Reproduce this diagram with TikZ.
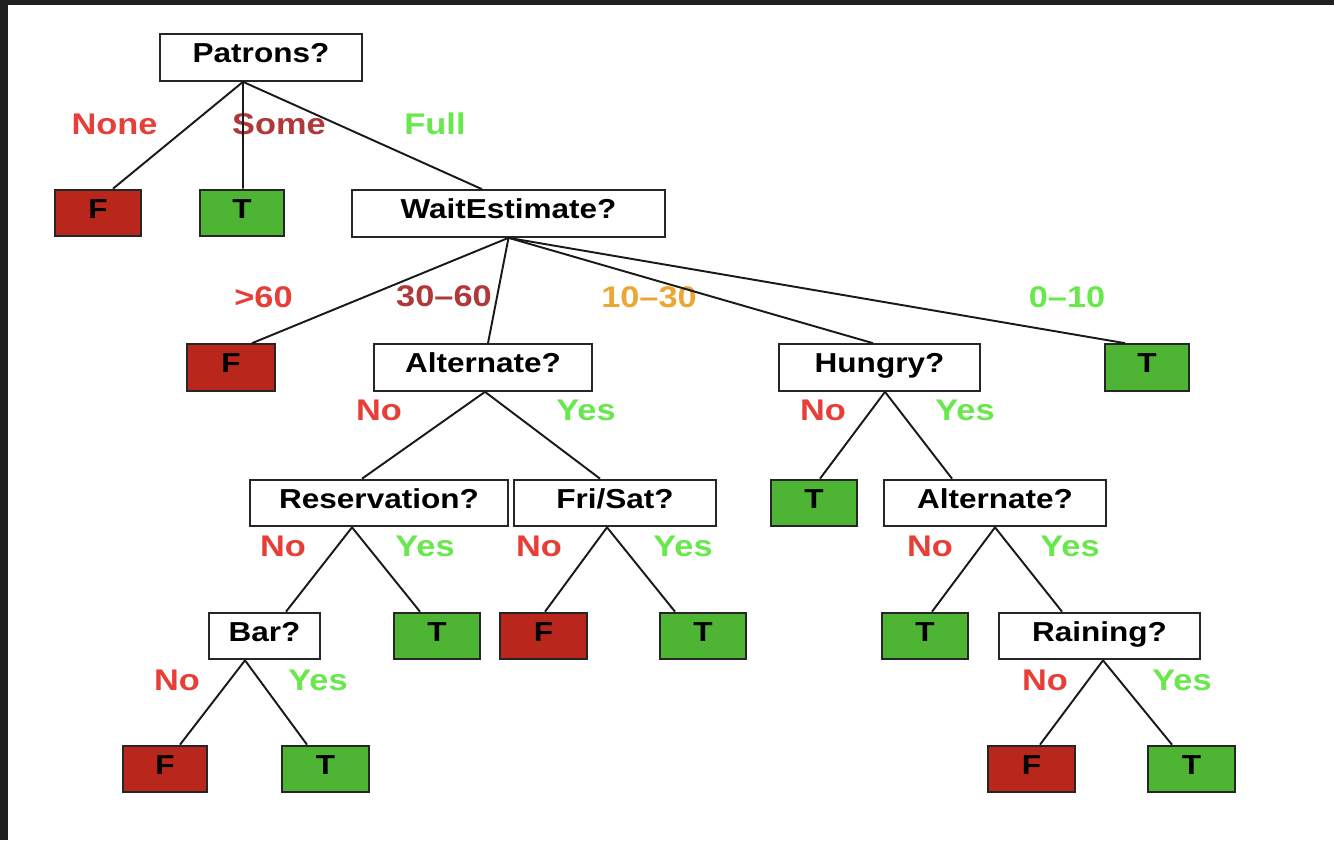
\documentclass[tikz,border=0pt]{standalone}
\usepackage{fontspec}
\setmainfont{Liberation Sans}[FakeStretch=1.15]
\usetikzlibrary{calc}

\definecolor{leafF}{RGB}{184,38,28}
\definecolor{leafT}{RGB}{78,180,52}
\definecolor{lblred}{RGB}{232,62,56}
\definecolor{lbldark}{RGB}{176,56,56}
\definecolor{lblgreen}{RGB}{104,232,76}
\definecolor{lblorange}{RGB}{236,166,52}
\definecolor{framegray}{RGB}{32,32,32}

\begin{document}
\begin{tikzpicture}[x=0.02cm,y=-0.02cm,
  box/.style={draw=black!85, line width=1.1pt, fill=white, inner xsep=0pt,
    inner ysep=5.1pt, text height=11.2pt, text depth=5.2pt,
    minimum width={#1*0.02cm}, font=\fontsize{15.6}{18}\selectfont\bfseries},
  fleaf/.style={box=#1, fill=leafF},
  tleaf/.style={box=#1, fill=leafT},
  lbl/.style={inner sep=0pt, text height=12.2pt, text depth=0pt,
    font=\fontsize{17}{20}\selectfont\bfseries, text=#1},
  edge/.style={draw=black!90, line width=1.1pt}]

\useasboundingbox (0,0) rectangle (1334,840);
\fill[white] (0,0) rectangle (1334,840);
\fill[framegray] (0,0) rectangle (1334,5);
\fill[framegray] (0,0) rectangle (8,840);

% decision nodes and leaves
\node[box=202]   (pat)  at (261,57.5)  {Patrons?};
\node[fleaf=86]  (fN)   at (98,213)    {F};
\node[tleaf=84]  (tS)   at (242,213)   {T};
\node[box=313]   (wait) at (508.5,213.5) {WaitEstimate?};
\node[fleaf=88]  (f60)  at (231,367.5) {F};
\node[box=218]   (alt1) at (483,367.5) {Alternate?};
\node[box=201]   (hun)  at (879.5,367.5) {Hungry?};
\node[tleaf=84]  (t010) at (1147,367.5) {T};
\node[box=258]   (res)  at (379,503)   {Reservation?};
\node[box=202]   (fri)  at (615,503)   {Fri/Sat?};
\node[tleaf=86]  (tHn)  at (814,503)   {T};
\node[box=222]   (alt2) at (995,503)   {Alternate?};
\node[box=111]   (bar)  at (264.5,636) {Bar?};
\node[tleaf=86]  (tRy)  at (437,636)   {T};
\node[fleaf=87]  (fFn)  at (543.5,636) {F};
\node[tleaf=86]  (tFy)  at (703,636)   {T};
\node[tleaf=86]  (tAn)  at (925,636)   {T};
\node[box=201]   (rain) at (1099.5,636) {Raining?};
\node[fleaf=84]  (fBn)  at (165,769)   {F};
\node[tleaf=87]  (tBy)  at (325.5,769) {T};
\node[fleaf=87]  (fRn)  at (1031.5,769) {F};
\node[tleaf=87]  (tRy2) at (1191.5,769) {T};

% branch labels
\node[lbl=lblred]    (lNone) at (114.5,124) {None};
\node[lbl=lbldark]   (lSome) at (279,124)   {Some};
\node[lbl=lblgreen]  (lFull) at (435,124)   {Full};
\node[lbl=lblred]    (lw1)   at (263.5,297) {>60};
\node[lbl=lbldark]   (lw2)   at (444,296)   {30–60};
\node[lbl=lblorange] (lw3)   at (649,297)   {10–30};
\node[lbl=lblgreen]  (lw4)   at (1067,297)  {0–10};
\node[lbl=lblred]    (la1n)  at (379,410)   {No};
\node[lbl=lblgreen]  (la1y)  at (586,410)   {Yes};
\node[lbl=lblred]    (lhn)   at (823,410)   {No};
\node[lbl=lblgreen]  (lhy)   at (965,410)   {Yes};
\node[lbl=lblred]    (lrn)   at (283,546)   {No};
\node[lbl=lblgreen]  (lry)   at (425,546)   {Yes};
\node[lbl=lblred]    (lfn)   at (539,546)   {No};
\node[lbl=lblgreen]  (lfy)   at (683,546)   {Yes};
\node[lbl=lblred]    (la2n)  at (930,546)   {No};
\node[lbl=lblgreen]  (la2y)  at (1070,546)  {Yes};
\node[lbl=lblred]    (lbn)   at (177,680)   {No};
\node[lbl=lblgreen]  (lby)   at (318,680)   {Yes};
\node[lbl=lblred]    (lrnn)  at (1045,680)  {No};
\node[lbl=lblgreen]  (lrny)  at (1182,680)  {Yes};

% branches
\draw[edge] ([xshift=-0.36cm]pat.south) -- ([xshift=0.30cm]fN.north);
\draw[edge] ([xshift=-0.36cm]pat.south) -- ([xshift=0.02cm]tS.north);
\draw[edge] ([xshift=-0.36cm]pat.south) -- ([xshift=-0.53cm]wait.north);

\draw[edge] (wait.south) -- ([xshift=0.42cm]f60.north);
\draw[edge] (wait.south) -- ([xshift=0.10cm]alt1.north);
\draw[edge] (wait.south) -- ([xshift=-0.13cm]hun.north);
\draw[edge] (wait.south) -- ([xshift=-0.44cm]t010.north);

\draw[edge] ([xshift=0.04cm]alt1.south) -- ([xshift=-0.34cm]res.north);
\draw[edge] ([xshift=0.04cm]alt1.south) -- ([xshift=-0.30cm]fri.north);

\draw[edge] ([xshift=0.11cm]hun.south) -- ([xshift=0.12cm]tHn.north);
\draw[edge] ([xshift=0.11cm]hun.south) -- ([xshift=-0.86cm]alt2.north);

\draw[edge] ([xshift=-0.54cm]res.south) -- ([xshift=0.43cm]bar.north);
\draw[edge] ([xshift=-0.54cm]res.south) -- ([xshift=-0.34cm]tRy.north);

\draw[edge] ([xshift=-0.16cm]fri.south) -- ([xshift=0.03cm]fFn.north);
\draw[edge] ([xshift=-0.16cm]fri.south) -- ([xshift=-0.56cm]tFy.north);

\draw[edge] (alt2.south) -- ([xshift=0.14cm]tAn.north);
\draw[edge] (alt2.south) -- ([xshift=-0.75cm]rain.north);

\draw[edge] ([xshift=-0.39cm]bar.south) -- ([xshift=0.30cm]fBn.north);
\draw[edge] ([xshift=-0.39cm]bar.south) -- ([xshift=-0.37cm]tBy.north);

\draw[edge] ([xshift=0.07cm]rain.south) -- ([xshift=0.17cm]fRn.north);
\draw[edge] ([xshift=0.07cm]rain.south) -- ([xshift=-0.39cm]tRy2.north);
\end{tikzpicture}
\end{document}
